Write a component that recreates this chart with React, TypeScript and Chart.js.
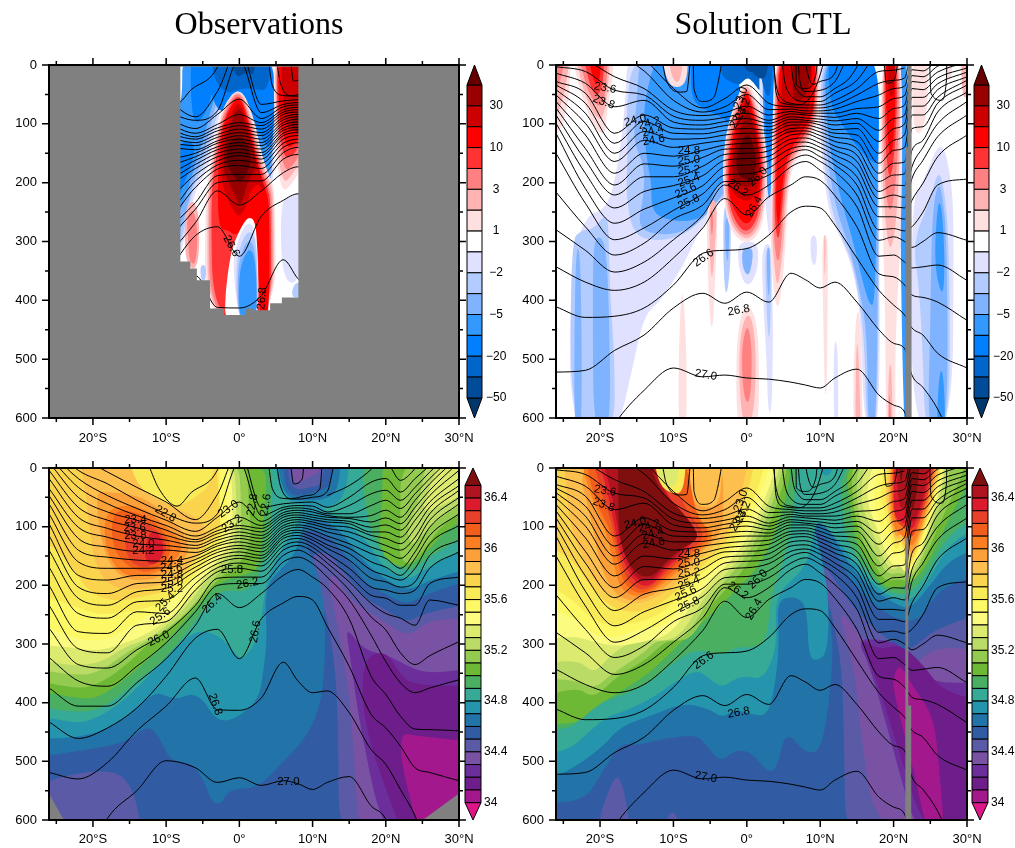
import React, { useEffect, useRef } from "react";
import { Chart, registerables } from "chart.js";
Chart.register(...registerables);

type Poly = [number, number[]];
type Label = [string, number, number, number];

const titles = ["Observations", "Solution CTL"];
const lonTicks = [-25, -20, -15, -10, -5, 0, 5, 10, 15, 20, 25, 30];
const lonNames: Record<number, string> = { [-20]: "20°S", [-10]: "10°S", 0: "0°", 10: "10°N", 20: "20°N", 30: "30°N" };
const depthTicks = [0, 50, 100, 150, 200, 250, 300, 350, 400, 450, 500, 550, 600];

const velPalette = ["#00366B", "#004C99", "#0066CC", "#0080FF", "#3399FF", "#80B3FF", "#B3CCFF", "#E0E0FF", "#FFFFFF", "#FFE0E0", "#FFB3B3", "#FF8080", "#FF3333", "#FF0000", "#CC0000", "#990000", "#660000"];
const salPalette = ["#E0158A", "#A3188C", "#6E1E8A", "#6C2E9A", "#7A52A4", "#5A5AA6", "#315CA4", "#2173A8", "#2595AD", "#36AA96", "#4BAF62", "#6DB935", "#93CA50", "#BADB65", "#DDEA70", "#FBFB80", "#FDF866", "#F9EA58", "#FBD44E", "#FDBF4D", "#FCA03A", "#FB7F22", "#F25F1C", "#E8412A", "#DC1C2C", "#B0151F", "#7F0F0F"];
const velTickAt = [0, 2, 4, 6, 8, 10, 12, 14];
const velTickText = ["−50", "−20", "−5", "−2", "1", "3", "10", "30"];
const salTickAt = [0, 4, 8, 12, 16, 20, 24];
const salTickText = ["34", "34.4", "34.8", "35.2", "35.6", "36", "36.4"];

// velocity classes
const D1 = 1, B6 = 2, B5 = 3, B4 = 4, B3 = 5, B2 = 6, B1 = 7, W = 8, R1 = 9, R2 = 10, R3 = 11, R4 = 12, R5 = 13, R6 = 14, R7 = 15, R8 = 16;

const velObsFill: Poly[] = [
  [W, [-60, -300, 60, -300, 60, 1000, -60, 1000]],
  [B1, [-8.5, 345, -7.6, 300, -7, 260, -6, 215, -5, 190, -4.2, 170, -3.4, 120, -2.4, 70, -2, -30, -8.5, -30]],
  [B2, [-8.5, 320, -7.6, 285, -7, 245, -6.2, 205, -5.2, 180, -4.4, 155, -3.6, 110, -2.5, 60, -2.2, -30, -8.5, -30]],
  [B3, [-8.5, 300, -7.6, 265, -7, 235, -6.2, 195, -5.4, 170, -4.6, 140, -3.8, 95, -2.8, 50, -2.5, -30, -8.5, -30]],
  [B4, [-8.5, 260, -7.5, 230, -6.5, 190, -5.6, 150, -4.8, 125, -4, 80, -3, 40, -2.7, -30, -8.5, -30]],
  [B5, [-8.5, 230, -7.5, 200, -6.5, 170, -6, 130, -8.5, 130]],
  [B5, [-6.7, -30, -6.6, 70, -6, 100, -5, 90, -4.2, 70, -3.4, 30, -3.2, -30]],
  [B1, [0, -30, -2, -30, -2, 120, 0, 160, 2, 180, 3.6, 200, 4.6, 210, 4.9, 120, 4.9, -30]],
  [B3, [0, -30, 1, 90, 2, 145, 3, 185, 4.2, 205, 4.6, 160, 4.8, -30]],
  [B4, [0, -30, 1, 90, 2, 140, 3, 175, 4, 190, 4.5, 150, 4.7, -30]],
  [B5, [-4.5, -30, -4, 50, -2.5, 85, -1, 60, 1, 70, 2.5, 110, 4.2, 150, 4.8, 100, 4.8, -30]],
  [B6, [-4, -30, -3.4, 30, -1.5, 50, 0, 40, 2, 40, 4, 45, 4.5, -30]],
  [D1, [-1.5, -30, -0.5, 25, 1, 10, 2, 20, 2.5, -30]],
  [R2, [-7.5, 250, -7.4, 340, -5.6, 350, -5.4, 260, -6.3, 225]],
  [R3, [-7.2, 260, -7, 300, -6.8, 335, -6, 340, -5.7, 300, -5.9, 260, -6.5, 245]],
  [R1, [-4.7, 440, -4.7, 240, -4.2, 185, -3.4, 130, -2.3, 70, 0, 35, 1.8, 80, 3.2, 160, 4.3, 195, 4.9, 215, 5, 440]],
  [R2, [-4.3, 440, -4.4, 235, -3.9, 180, -3.2, 130, -2.1, 70, 0, 38, 1.6, 85, 3, 165, 4.2, 200, 4.7, 220, 4.8, 440]],
  [R3, [-4, 440, -4.2, 235, -3.6, 175, -3, 125, -2, 75, 0, 40, 1.5, 90, 2.8, 165, 4, 205, 4.5, 225, 4.6, 440]],
  [R4, [-3.6, 440, -3.9, 230, -3.4, 175, -2.8, 130, -1.9, 80, 0, 44, 1.4, 95, 2.7, 170, 3.9, 210, 4.3, 235, 4.4, 440]],
  [R5, [-2.8, 280, -3, 200, -2.6, 130, -1.8, 85, 0, 47, 1.3, 100, 2.5, 170, 3.7, 215, 4.1, 240, 4.1, 440, 2.8, 440, 2.7, 360, 2.5, 300, 1.5, 270, 0.7, 280, -0.7, 290, -1.5, 280]],
  [R6, [0, 55, -1.6, 95, -2.4, 135, -2.6, 190, -1.9, 220, -1, 245, 0, 260, 1, 240, 1.5, 215, 2.5, 200, 3.2, 215, 3.4, 205, 2.3, 165, 1.2, 105]],
  [R7, [0, 65, -1.4, 105, -2.1, 140, -2.2, 180, -1.4, 200, -0.5, 225, 0, 240, 0.6, 225, 1.1, 200, 1.8, 185, 2.4, 170, 2, 150, 1.1, 110]],
  [R8, [0, 120, -1.5, 130, -1.9, 165, -1, 185, -0.2, 200, 0.6, 195, 1.2, 180, 1.7, 160, 1, 130]],
  [W, [-1.9, 385, -1.3, 330, -0.7, 300, 0.5, 270, 1.3, 258, 2.2, 265, 2.5, 320, 2.7, 440, -2, 440]],
  [B1, [-1, 335, 0, 290, 1.2, 265, 2.2, 280, 2.5, 340, 2.6, 440, 0, 440]],
  [B2, [-0.5, 340, 0.4, 295, 1.5, 280, 2.3, 300, 2.5, 360, 2.6, 440, -0.2, 440]],
  [B3, [-0.3, 350, 0.5, 310, 1.5, 295, 2.3, 320, 2.5, 440, -0.1, 440]],
  [B4, [-0.1, 360, 0.6, 325, 1.6, 310, 2.3, 340, 2.4, 440, 0, 440]],
  [B2, [-5.4, 340, -5.2, 370, -4.6, 365, -4.5, 340]],
  [B1, [5.6, 230, 5.8, 370, 8.6, 370, 8.6, 210, 7, 225]],
  [B2, [7, 395, 8.6, 395, 8.6, 370, 7.5, 370]],
  [R1, [4.6, -30, 4.8, 90, 5, 150, 5.4, 190, 6, 215, 7, 205, 8.6, 175, 8.6, -30]],
  [R2, [4.8, -30, 5, 90, 5.2, 145, 5.6, 180, 6.2, 200, 7, 190, 8.6, 160, 8.6, -30]],
  [R3, [5, -30, 5.1, 90, 5.4, 140, 6.3, 180, 7, 175, 8.6, 148, 8.6, -30]],
  [R4, [5.1, -30, 5.2, 90, 5.6, 130, 6.4, 165, 8.6, 135, 8.6, -30]],
  [R5, [5.3, -30, 5.4, 85, 6, 120, 6.7, 145, 8.6, 120, 8.6, -30]],
  [R6, [5.7, -30, 5.9, 70, 6.8, 120, 8.6, 100, 8.6, -30]],
  [R7, [6.9, 95, 8.6, 70, 8.6, 115, 7.6, 115]],
  [W, [-8.5, -30, -8.5, 65, -7.8, 60, -7.8, -30]],
];

const velCtlFill: Poly[] = [
  [W, [-60, -300, 60, -300, 60, 1000, -60, 1000]],
  [B1, [-24.2, 630, -24, 340, -22, 255, -19, 245, -17.5, 170, -16.5, 60, -16.3, -30, -1, -30, -1, 200, -3, 225, -4.5, 245, -6.8, 289, -8.6, 340, -11.8, 402, -14, 425, -15.6, 516, -17.7, 630]],
  [B2, [-24, 630, -24, 300, -22.5, 280, -21, 280, -19, 250, -18.8, 300, -18.6, 400, -18, 500, -18, 630]],
  [B3, [-20.9, 630, -21, 400, -20.9, 300, -20, 290, -19.2, 310, -18.8, 400, -18.5, 630]],
  [B3, [-23.6, 630, -23.4, 350, -23, 300, -22.6, 350, -22.4, 630]],
  [B2, [-15.5, -30, -16.5, 90, -16.2, 150, -16.5, 220, -15.5, 290, -12, 300, -9, 290, -7, 275, -5, 240, -3, 225, -1, 190, -1, -30]],
  [B3, [-14.5, -30, -15, 60, -15.5, 130, -14, 170, -14, 220, -15, 280, -11, 290, -8, 280, -6, 262, -4, 232, -2, 200, -1, -30]],
  [B4, [-12, -30, -14, 60, -14, 120, -13.5, 170, -13, 200, -13, 250, -10.5, 265, -7, 265, -5.5, 250, -4, 200, -1, 190, -1, -30]],
  [B5, [-7.5, -30, -7.7, 55, -6, 75, -3, 90, -1, 120, -1, -30]],
  [B6, [-4, -30, -3.5, 20, -2, 30, -1, 35, 0, 20, 1, 30, 2, 50, 3, -30]],
  [D1, [-1.5, -30, 0, 15, 1.5, 8, 2, -30]],
  [B1, [1.5, -30, 2, 150, 2.5, 230, 3, 290, 3.3, 300, 3.6, 200, 4.1, -30]],
  [B4, [2, -30, 2.4, 150, 3, 240, 3.4, 200, 3.9, -30]],
  [B5, [2.2, -30, 2.6, 120, 3.1, 190, 3.6, 120, 3.8, -30]],
  [B6, [1.5, -30, 2, 30, 3, 60, 3.4, 30, 3.6, -30]],
  [D1, [-0.5, -30, 0.5, 10, 1.7, 25, 2.8, 20, 3, -30]],
  [B1, [9.5, -30, 9.8, 100, 11, 250, 13, 298, 14.5, 350, 15.5, 420, 16, 630, 18.2, 630, 18, 200, 18, -30]],
  [B2, [10, -30, 10.2, 130, 11.5, 250, 13.5, 310, 14.5, 340, 16, 450, 16.3, 630, 18, 630, 18, -30]],
  [B3, [10.3, -30, 10.5, 120, 12, 240, 14, 310, 15.5, 390, 16.4, 460, 16.5, 630, 17.8, 630, 17.9, -30]],
  [B4, [10.6, -30, 10.8, 110, 12.5, 215, 14.5, 300, 15.8, 370, 16.8, 410, 17.4, 405, 17.6, 300, 17.9, 200, 18, -30]],
  [B5, [11, -30, 11.3, 70, 13, 100, 15, 140, 17.5, 170, 18, 160, 18, -30]],
  [B4, [21, -30, 20.8, 100, 20.9, 200, 21, 350, 21.2, 500, 21.5, 630, 22, 630, 22, -30]],
  [B1, [22.4, 230, 22.4, 630, 28, 630, 28.2, 300, 28, 200, 26.5, 120, 24, 200]],
  [B2, [22.6, 300, 23.5, 380, 24, 500, 24.3, 630, 27.7, 630, 27.6, 300, 26.8, 200, 26, 180, 25, 230]],
  [B3, [24.6, 630, 25, 450, 25.2, 260, 26, 200, 26.6, 215, 27.3, 300, 27.4, 630]],
  [B4, [25.5, 340, 26, 230, 26.6, 240, 27, 340, 26.7, 400]],
  [B4, [25.8, 630, 26.2, 520, 26.8, 520, 27.1, 630]],
  [R1, [22.5, -30, 22.6, 110, 23.8, 120, 24.7, 70, 24.6, -30]],
  [R1, [26.8, -30, 27.2, 30, 28, 20, 28, -30]],
  [R2, [29.2, -30, 29.3, 50, 30, 60, 30.5, -30]],
  [R1, [-26.5, -30, -26.5, 130, -25, 100, -24.2, 55, -23.9, -30]],
  [R2, [-26.5, -30, -26.5, 100, -25.5, 75, -24.5, 30, -24.1, -30]],
  [R3, [-26.5, -30, -26.5, 55, -25.4, 30, -24.5, -30]],
  [R4, [-26.5, -30, -26.5, 30, -25.2, -30]],
  [R1, [-24.1, -30, -22.7, 48, -20.9, 105, -19.3, 122, -19.1, 77, -18.2, 26, -18.2, -30]],
  [R2, [-23.6, -30, -22.2, 48, -20.7, 88, -19.5, 94, -18.8, 26, -18.6, -30]],
  [R3, [-23.2, -30, -21.8, 42, -20.4, 71, -19.5, 65, -19, 14, -19, -30]],
  [R4, [-22.5, -30, -21.3, 42, -20.2, 54, -19.5, 26, -19.5, -30]],
  [R5, [-21.8, -30, -20.9, 31, -20, 31, -19.8, -30]],
  [R1, [-11.8, -30, -10.9, 31, -9.3, 40, -8.1, 26, -8, -30]],
  [R2, [-10.9, -30, -10.2, 26, -9, 31, -8.6, -30]],
  [R1, [-8.8, 360, -9.3, 480, -9.3, 630, -8.2, 630, -8.2, 480]],
  [R1, [-5.5, 230, -5.4, 330, -5, 440, -4.6, 450, -4.2, 330, -3.9, 240]],
  [R2, [-5.2, 230, -5, 340, -4.7, 370, -4.3, 300, -4, 230]],
  [R3, [-5, 240, -4.8, 300, -4.5, 260]],
  [B2, [-3.2, 230, -3.2, 350, -2.8, 400, -2.2, 340, -2.2, 250]],
  [B3, [-3, 260, -2.9, 320, -2.6, 340, -2.4, 300, -2.4, 260]],
  [B1, [-1.2, 300, -1.2, 340, -0.3, 375, 0.8, 370, 1.6, 340, 1.5, 300]],
  [B3, [-0.7, 310, -0.6, 345, 0.2, 360, 0.7, 340, 0.9, 310]],
  [R1, [0.1, 405, -1, 430, -1.5, 500, -1.3, 630, 1.6, 630, 1.7, 500, 1.3, 430]],
  [R2, [0.1, 420, -0.8, 450, -1.1, 510, -0.8, 590, 0, 620, 1, 590, 1.3, 500, 0.9, 440]],
  [R3, [0.1, 440, -0.6, 470, -0.7, 520, -0.3, 570, 0.4, 575, 0.7, 520, 0.6, 470]],
  [B1, [2, 310, 2.2, 400, 2.7, 500, 2.9, 590, 3.4, 590, 3.6, 450, 3.4, 350, 3.3, 300]],
  [B2, [2.5, 310, 2.6, 400, 3, 480, 3.3, 420, 3.3, 310]],
  [B3, [2.7, 310, 2.8, 380, 3.1, 400, 3.2, 310]],
  [B1, [8.6, 290, 8.8, 340, 9.5, 340, 9.6, 290]],
  [R1, [10.2, 289, 10.4, 420, 10.6, 560, 10.9, 560, 11, 420, 11.1, 289]],
  [R2, [10.5, 289, 10.6, 380, 10.8, 289]],
  [B1, [11.8, 470, 11.9, 630, 12.5, 630, 12.4, 470]],
  [R1, [14.9, 420, 14.5, 520, 14.5, 630, 15.8, 630, 15.7, 520, 15.4, 420]],
  [R2, [15, 450, 14.8, 560, 14.8, 630, 15.5, 630, 15.4, 540]],
  [R1, [0, 25, -1.2, 50, -2.6, 100, -3.3, 160, -3.2, 220, -2.6, 270, -1.2, 298, 0.5, 302, 2, 280, 2.6, 230, 2.8, 170, 2.4, 110, 1.3, 55]],
  [R2, [0, 30, -1.1, 55, -2.5, 105, -3.1, 160, -3, 220, -2.4, 265, -1, 292, 0.4, 296, 1.8, 274, 2.4, 228, 2.6, 170, 2.2, 112, 1.1, 60]],
  [R3, [0, 34, -1, 60, -2.3, 110, -2.9, 165, -2.8, 220, -2.2, 260, -0.9, 287, 0.4, 290, 1.6, 268, 2.2, 226, 2.4, 170, 2, 115, 1, 65]],
  [R4, [0, 38, -0.9, 65, -2.1, 115, -2.7, 170, -2.6, 220, -2, 255, -0.8, 280, 0.3, 283, 1.4, 262, 2, 222, 2.2, 170, 1.8, 118, 0.9, 70]],
  [R5, [0, 42, -0.8, 72, -1.9, 120, -2.5, 175, -2.4, 220, -1.8, 245, -0.6, 268, 0.3, 270, 1.2, 250, 1.8, 218, 2, 170, 1.6, 122, 0.8, 76]],
  [R6, [0, 50, -0.7, 80, -1.7, 125, -2.3, 175, -2.2, 210, -1.4, 225, 0, 232, 1, 225, 1.7, 205, 1.9, 170, 1.5, 125, 0.7, 82]],
  [R7, [0, 70, -1.3, 125, -2, 165, -1.9, 195, -1, 205, 0, 208, 1, 203, 1.6, 185, 1.7, 160, 1.2, 120, 0.5, 85]],
  [R8, [0, 115, -1.3, 145, -1.5, 180, -0.5, 195, 0.8, 195, 1.3, 178, 1.2, 150, 0.6, 125]],
  [R1, [3.8, -30, 3.5, 100, 3.3, 200, 3.2, 300, 3.6, 380, 4.2, 420, 4.8, 380, 5.3, 300, 5.6, 220, 6.2, 170, 8, 140, 9.5, 105, 9.9, 60, 10, -30]],
  [R2, [4, -30, 3.7, 100, 3.5, 200, 3.4, 290, 3.8, 350, 4.2, 380, 4.7, 340, 5.1, 290, 5.4, 220, 6, 165, 8, 132, 9.3, 100, 9.7, 60, 9.8, -30]],
  [R3, [4.1, -30, 3.8, 100, 3.6, 200, 3.6, 280, 4, 330, 4.4, 335, 4.8, 290, 5.2, 215, 5.9, 160, 7.9, 128, 9.2, 95, 9.6, 50, 9.7, -30]],
  [R4, [4.3, -30, 4, 100, 3.8, 200, 3.8, 265, 4.2, 300, 4.6, 280, 5, 210, 5.7, 155, 7.8, 122, 9.1, 88, 9.4, 40, 9.5, -30]],
  [R5, [4.5, -30, 4.2, 100, 4, 200, 4, 250, 4.3, 275, 4.5, 260, 4.8, 205, 5.5, 150, 7.6, 115, 9, 82, 9.3, 40, 9.3, -30]],
  [R6, [5, -30, 4.6, 70, 5, 120, 6.5, 115, 7.6, 100, 8.8, 60, 9, -30]],
  [R7, [6.3, -30, 6.2, 40, 6.6, 65, 7.6, 60, 8.7, 30, 8.8, -30]],
  [R1, [18.3, -30, 18.2, 200, 18.6, 300, 18.8, 400, 18.9, 500, 19, 630, 20.3, 630, 20.2, 500, 20.5, 400, 21, 280, 21.2, 150, 21.1, -30]],
  [R2, [18.5, -30, 18.4, 180, 18.9, 270, 19.5, 320, 20.3, 280, 20.9, 150, 20.9, -30]],
  [R2, [19.2, 630, 19.3, 520, 19.7, 500, 19.9, 630]],
  [R3, [18.6, -30, 18.6, 160, 19.2, 250, 20, 240, 20.7, 130, 20.7, -30]],
  [R3, [19.3, 630, 19.45, 540, 19.7, 630]],
  [R4, [18.75, -30, 18.8, 130, 19.5, 210, 20.4, 120, 20.5, -30]],
  [R5, [18.9, -30, 19, 100, 19.6, 170, 20.2, 100, 20.3, -30]],
  [R6, [19, -30, 19.2, 40, 19.8, 60, 20.2, 30, 20.2, -30]],
];

const salObsFill: Poly[] = [
  [6, [-60, -300, 60, -300, 60, 1000, -60, 1000]],
  [5, [-30, 700, -30, 545, -18.8, 510, -14.2, 536, -12.6, 700]],
  [4, [-22, 630, -19.7, 586, -18.5, 630]],
  [5, [13.6, 700, 13.5, 400, 12.6, 292, 11.5, 235, 10.5, 190, 9.5, 150, 12, 140, 15, 190, 17.4, 225, 19.9, 240, 22.9, 265, 25.6, 245, 35, 225, 35, 700]],
  [4, [16.7, 700, 15.4, 440, 14.6, 349, 13.7, 292, 13, 240, 12, 190, 13, 180, 15, 225, 19.7, 262, 23.3, 290, 26, 255, 35, 260, 35, 700]],
  [3, [21.3, 630, 19, 590, 17, 470, 16, 400, 15, 310, 14.5, 270, 17, 310, 20.5, 320, 24, 345, 27, 350, 35, 335, 35, 700]],
  [2, [22.5, 630, 20.8, 575, 17, 440, 16.7, 326, 20, 310, 21.8, 350, 24, 372, 35, 370, 35, 700]],
  [1, [22.2, 451, 24, 457, 35, 470, 35, 700, 24.7, 630, 23.1, 553, 22, 491]],
  [7, [-30, 497, -20.5, 480, -15.5, 468, -12.4, 437, -10.8, 462, -9.4, 500, -6.5, 502, -4.7, 536, -3.8, 570, -2.4, 573, -1.5, 548, 2.6, 545, 5.4, 508, 9, 463, 11.3, 400, 11.8, 300, 11.5, 220, 10.5, 172, 9.2, 132, 8.5, 105, 11.9, 110, 15.2, 160, 17.4, 200, 19.9, 214, 22.9, 234, 25.6, 214, 35, 177, 35, -30, -30, -30]],
  [8, [-30, 462, -21, 460, -15.6, 429, -11.5, 378, -9, 397, -5.6, 380, -2.6, 443, 2.6, 400, 3.3, 344, 3.8, 292, 3.5, 228, 4, 194, 5.6, 174, 7.4, 149, 8.1, 126, 9, 85, 12.9, 92, 17, 160, 19.7, 188, 22.9, 211, 26.5, 188, 35, 160, 35, -30, -30, -30]],
  [9, [-30, 420, -25, 428, -21, 437, -16, 400, -11.5, 343, -7.8, 292, -5, 275, -2, 292, -0.3, 323, 0.8, 323, 2.5, 292, 3.2, 240, 3.6, 200, 4.2, 177, 6, 132, 7.9, 98, 9, 47, 12.4, 78, 17, 115, 19.7, 171, 22.9, 194, 26, 166, 35, 115, 35, -30, -30, -30]],
  [10, [-30, 402, -21, 420, -17.4, 400, -13.3, 355, -10.6, 332, -8.3, 298, -5.1, 245, -2.8, 211, -1, 208, 0.8, 211, 2.6, 188, 2.9, 166, 4.2, 143, 4.4, 60, 4.6, -30, -30, -30]],
  [10, [16.5, -30, 17.2, 75, 18.8, 137, 22.9, 183, 26, 149, 35, 90, 35, -30]],
  [11, [-30, 372, -21.5, 395, -18.8, 389, -15.1, 355, -11, 310, -9.7, 292, -6, 240, -3.3, 200, -1, 186, 0.8, 183, 2.6, 171, 2.9, 137, 3.5, 70, 3.8, -30, -30, -30]],
  [11, [19.5, -30, 19.6, 50, 19, 120, 20, 160, 22.9, 171, 25.6, 143, 28.8, 98, 35, 70, 35, -30]],
  [12, [-30, 355, -22, 378, -18.8, 366, -15, 332, -11.9, 292, -6.5, 245, -3.8, 200, -1, 171, 0.3, 160, 1.7, 120, 1.3, 64, 0.9, -30, -30, -30]],
  [12, [22, -30, 22, 110, 21.8, 150, 23, 165, 24.3, 154, 28.3, 86, 35, 50, 35, -30]],
  [13, [-30, 338, -22, 355, -18.8, 346, -15, 310, -10.6, 282, -7, 245, -4.2, 200, -2, 166, 0.1, 143, 0.3, 58, -0.2, -30, -30, -30]],
  [13, [25.8, -30, 24.7, 52, 22.9, 98, 23.2, 125, 23.8, 132, 27.4, 81, 35, 30, 35, -30]],
  [14, [-30, 321, -22.9, 338, -18.8, 332, -15.6, 304, -12, 290, -7.4, 240, -4.7, 194, -2.4, 160, -0.6, 137, -0.3, 58, -0.9, -30, -30, -30]],
  [14, [27.5, -30, 26.5, 20, 24.7, 75, 27, 70, 35, 12, 35, -30]],
  [15, [-30, 300, -23, 305, -20, 312, -17, 305, -12.8, 285, -8.8, 250, -5.6, 200, -3.3, 160, -1.2, 132, -0.8, 58, -1.5, -30, -30, -30]],
  [16, [-30, 250, -23, 290, -19, 296, -16, 280, -14, 262, -9.7, 234, -6.2, 188, -3.8, 154, -2, 126, -1.5, 52, -2.2, -30, -30, -30]],
  [17, [-30, 205, -22.9, 234, -19.2, 251, -15, 245, -11, 234, -7.4, 200, -4.2, 154, -2.4, 120, -2.8, 52, -2.6, -30, -30, -30]],
  [18, [-30, 100, -25, 137, -22.4, 177, -20.6, 211, -17.4, 228, -13.3, 220, -9.2, 208, -6.5, 166, -4.2, 132, -2.4, 103, -3, 24, -3.2, -30, -30, -30]],
  [19, [-22, -30, -21, 40, -20.6, 86, -19.7, 171, -17, 208, -12, 205, -8.3, 188, -6, 149, -4.2, 115, -5.5, 85, -9, 68, -11, 50, -13, -30]],
  [17, [-15.5, -30, -14, 30, -11, 55, -8.5, 68, -6, 50, -4, 30, -2.8, -30]],
  [20, [-19.7, 41, -18.8, 137, -16.5, 188, -12, 194, -8.3, 166, -6.5, 137, -8.3, 98, -12, 58, -14.7, 44, -18.3, 41]],
  [21, [-18.5, 75, -18.3, 143, -16, 183, -12.8, 186, -9.2, 166, -7.4, 132, -9.7, 103, -12.8, 70, -15.6, 61]],
  [22, [-17.4, 75, -17.4, 137, -15.1, 171, -12, 180, -9.7, 155, -9.2, 126, -12, 86, -15, 72]],
  [23, [-15.6, 86, -15.6, 155, -12.8, 174, -10, 149, -10, 120, -12, 98, -14, 88]],
  [24, [-12.5, 115, -13, 145, -12.5, 165, -11, 162, -10.4, 145, -10.4, 125, -11.5, 105]],
  [8, [4.9, -30, 5.2, 30, 7, 60, 9, 62, 12, 70, 14.5, 50, 15.2, -30]],
  [7, [5.2, -30, 5.6, 30, 7.2, 55, 9, 55, 11.5, 55, 13.5, 40, 14, -30]],
  [6, [6, -30, 6.1, 30, 7.5, 48, 9, 45, 11, 40, 12.5, 30, 13, -30]],
  [5, [6.6, -30, 6.7, 25, 8, 38, 9.5, 33, 11.2, 30, 12, -30]],
  [4, [7, -30, 7.4, 28, 8.6, 22, 10, 12, 11, 8, 11.3, -30]],
];

const salCtlFill: Poly[] = [
  [6, [-60, -300, 60, -300, 60, 1000, -60, 1000]],
  [5, [-21, 630, -18.2, 525, -17, 530, -15.6, 630]],
  [5, [-11.8, 630, -10, 573, -8.8, 630]],
  [5, [13.5, 700, 13.2, 420, 12.8, 320, 11, 220, 10, 160, 11.5, 180, 14, 230, 17, 270, 20, 300, 22, 315, 26, 270, 35, 240, 35, 700]],
  [4, [17.6, 630, 15.5, 450, 14.6, 340, 13.5, 292, 12.5, 240, 14.5, 270, 17, 310, 20, 330, 22, 345, 26, 300, 35, 320, 35, 700]],
  [3, [23.3, 630, 20.8, 520, 18.2, 400, 16.5, 330, 15, 292, 18, 292, 21, 300, 23, 340, 26, 370, 35, 360, 35, 700]],
  [2, [24.5, 630, 21, 495, 18.7, 400, 16.5, 320, 15.5, 292, 18, 310, 21, 300, 24, 335, 27, 385, 35, 400, 35, 700]],
  [1, [19.8, 366, 20.5, 338, 21.4, 343, 22.6, 372, 25.5, 423, 26.2, 510, 27, 630, 24.7, 630, 22.8, 519, 20.7, 417]],
  [7, [-30, 570, -22.3, 570, -20, 525, -17.2, 468, -15.4, 474, -10.9, 460, -6.8, 455, -5.4, 474, -3.6, 502, -1.8, 482, 0.5, 482, 2.8, 519, 4.1, 513, 5.3, 446, 7.8, 485, 10, 485, 11.2, 406, 11.9, 292, 10.5, 217, 9.2, 150, 8.5, 110, 10, 105, 12, 140, 14.2, 194, 16.9, 228, 18.7, 245, 20.5, 257, 23.3, 262, 25, 230, 27, 200, 35, 170, 35, -30, -30, -30]],
  [8, [-30, 530, -25.9, 525, -23.2, 508, -19.5, 474, -17.2, 440, -13.2, 423, -8.6, 400, -5, 411, -3.4, 426, -1.5, 411, 0.5, 420, 3, 423, 4.1, 349, 4.4, 292, 4.1, 222, 7, 220, 8.2, 240, 8.4, 320, 9.5, 330, 11, 315, 11.2, 230, 10.5, 170, 9.5, 115, 8.7, 90, 10, 85, 12, 120, 14.2, 171, 16.9, 205, 20.5, 234, 22.3, 240, 25, 200, 28, 150, 35, 125, 35, -30, -30, -30]],
  [9, [-30, 490, -25.9, 485, -23.6, 474, -22.2, 457, -19, 423, -17.2, 417, -13.2, 395, -10, 366, -6.8, 343, -5, 360, -3.4, 375, -1.5, 358, -0.1, 355, 2.2, 360, 3.7, 320, 4, 292, 3.9, 217, 6.9, 183, 8.2, 160, 9, 120, 9.6, 85, 12.3, 120, 14.2, 154, 16.9, 194, 19.6, 222, 22.8, 225, 24.8, 190, 28, 120, 35, 85, 35, -30, -30, -30]],
  [10, [-30, 446, -23.6, 446, -21.6, 406, -17.7, 392, -13.2, 366, -10.4, 335, -6.8, 307, -3.4, 321, -1.3, 304, 1, 307, 2.8, 292, 3.2, 217, 5, 160, 6, 103, 6.5, 50, 7, -30, -30, -30]],
  [10, [12.8, -30, 13, 92, 14.2, 137, 16.9, 186, 19.2, 211, 21.9, 218, 24.6, 180, 27.5, 110, 35, 50, 35, -30]],
  [8, [9.5, -30, 10, 10, 11.5, 15, 12, -30]],
  [11, [-30, 429, -23.5, 440, -20.9, 409, -16.8, 378, -13.2, 349, -10, 310, -8.6, 292, -4, 240, -1.3, 205, 1, 177, 3.2, 132, 5.3, 58, 6.4, -30, -30, -30]],
  [11, [13.2, -30, 14.2, 81, 15, 132, 16.9, 171, 18.7, 205, 21.4, 205, 24.2, 175, 27, 100, 30.5, 15, 33, -30]],
  [12, [-30, 400, -23.2, 372, -20.9, 394, -17.7, 355, -13.6, 326, -10.9, 292, -7.7, 296, -5, 234, -2.2, 200, 0, 166, 2.3, 120, 4.6, 47, 6, -30, -30, -30]],
  [12, [14.2, -30, 14.4, 64, 15.5, 120, 17.3, 160, 18.7, 194, 21, 188, 22.8, 200, 26, 100, 29.6, 7, 30, -30]],
  [13, [-30, 360, -23.6, 360, -20.9, 378, -18.2, 349, -14, 315, -12.2, 292, -8.6, 296, -5.4, 228, -2.7, 188, -0.2, 154, 2.1, 103, 4.1, 41, 5.5, -30, -30, -30]],
  [13, [15.3, -30, 14.8, 64, 16.2, 115, 17.8, 154, 19.2, 183, 21, 177, 22.8, 190, 25.8, 88, 28.7, -30]],
  [14, [-30, 338, -23, 325, -20.9, 352, -18.2, 315, -15.9, 298, -14, 292, -9.5, 296, -5.9, 222, -3.1, 183, -0.6, 149, 1.6, 98, 3.7, 35, 5, -30, -30, -30]],
  [14, [16.4, -30, 15.3, 52, 16.9, 103, 18.2, 143, 19.6, 177, 21, 166, 22.8, 180, 25.6, 80, 27.9, -30]],
  [15, [-30, 300, -24, 285, -20.9, 296, -17.7, 305, -14, 296, -10.4, 285, -6.6, 217, -3.6, 177, -1.1, 143, 1.2, 92, 3.2, 30, 4.6, -30, -30, -30]],
  [15, [17.8, -30, 16, 47, 17.6, 98, 18.7, 137, 20, 171, 20.7, 160, 21.5, 180, 22.8, 175, 25.5, 75, 27.5, -30]],
  [16, [-30, 230, -24, 250, -21, 285, -17.7, 290, -14, 270, -11.3, 273, -7.2, 211, -4.3, 171, -1.5, 137, 0.5, 86, 2.5, 24, 3.7, -30, -30, -30]],
  [16, [18.7, -30, 17.1, 41, 18, 92, 19.2, 132, 20.3, 154, 21, 140, 21.8, 170, 22.8, 170, 25.4, 70, 27.3, -30]],
  [17, [-30, 180, -24, 220, -21, 260, -18, 270, -12.2, 257, -7.7, 200, -5, 166, -2, 132, 0, 81, 1.9, 24, 2.8, -30, -30, -30]],
  [17, [19.4, -30, 18, 41, 19, 86, 19.8, 126, 20.5, 143, 21, 125, 21.8, 165, 22.7, 165, 25.3, 65, 27.1, -30]],
  [18, [-30, 120, -24, 149, -21.3, 205, -17.7, 245, -13.2, 245, -8.6, 200, -5.6, 160, -2.7, 126, -0.6, 75, 0.5, 24, 1.4, -30, -30, -30]],
  [18, [19.6, -30, 18.7, 41, 19.4, 86, 20, 115, 20.4, 135, 21, 120, 21.8, 155, 22.7, 160, 25.2, 60, 26.9, -30]],
  [19, [-25, -30, -24.5, 50, -24, 103, -21.3, 183, -18.2, 228, -14, 234, -9, 194, -6.3, 154, -3.1, 120, -1.3, 75, -0.4, 24, 0.5, -30]],
  [19, [19.7, -30, 19, 50, 19.5, 90, 20.2, 125, 21, 115, 21.8, 145, 22.7, 155, 25.1, 58, 26.7, -30]],
  [20, [-23.6, -30, -20.9, 103, -20, 171, -17.7, 222, -14, 228, -9.5, 188, -6.8, 149, -3.6, 115, -3.1, 75, -3.4, -30]],
  [20, [19.8, -30, 19.3, 50, 19.7, 95, 20.4, 120, 21, 110, 21.8, 135, 22.7, 150, 25, 55, 26.4, -30]],
  [21, [-23, -30, -21.3, 47, -19.3, 103, -18.2, 160, -17.2, 211, -14, 222, -10, 183, -7.2, 149, -4, 115, -6.8, 86, -7.9, 7, -8, -30]],
  [21, [19.9, -30, 19.5, 50, 19.9, 95, 20.5, 110, 21.8, 120, 22.7, 140, 24.9, 52, 26.2, -30]],
  [22, [-22.3, -30, -20.7, 58, -18.6, 103, -17.7, 154, -16.6, 205, -13.8, 217, -10.4, 180, -7.7, 146, -4.5, 115, -7.2, 81, -8.1, -30]],
  [23, [-21.3, -30, -20, 35, -18.4, 92, -17.5, 149, -16.1, 200, -13.6, 211, -10.6, 174, -7.9, 143, -5.4, 115, -8.1, 75, -8.8, 52, -11.3, 30, -12.2, -30]],
  [23, [20, -30, 19.8, 50, 20.1, 90, 21.8, 105, 22.6, 125, 24.7, 50, 26, -30]],
  [24, [-20.6, -30, -19.3, 24, -18.2, 86, -17.5, 137, -15.6, 194, -13.2, 205, -10.9, 169, -8.1, 140, -6.8, 115, -9, 75, -11.1, 41, -13.6, -30]],
  [24, [20.1, -30, 20, 60, 20.3, 88, 21.8, 95, 22.6, 110, 24.4, 50, 25.7, -30]],
  [25, [-20, -30, -18.8, 24, -17.9, 75, -17.2, 132, -15.4, 188, -13.2, 197, -11.1, 166, -8.4, 137, -7.2, 112, -9.3, 70, -11.1, 45, -13.6, -30]],
  [25, [20.4, -30, 20.6, 65, 21.5, 70, 22.3, 85, 22.8, 95, 24.1, 50, 25.3, -30]],
  [26, [-17.6, -30, -17.5, 24, -17.5, 126, -15.2, 183, -12.7, 186, -11.1, 160, -8.6, 135, -7, 125, -6.6, 110, -9.5, 64, -11.8, 41, -14, -30]],
  [26, [21.8, -30, 22, 40, 22.4, 75, 23, 60, 23.8, -30]],
  [26, [20.7, -30, 20.8, 20, 21.2, 25, 21.4, -30]],
  [17, [-12.8, -30, -12, 30, -10, 45, -8.6, 40, -8.2, -30]],
  [14, [-12.2, -30, -12, 15, -11, 32, -9.5, 32, -9, -30]],
  [19, [-8, -30, -7.5, 60, -5, 70, -3.5, 55, -3.4, -30]],
];

const GRAY = "#808080";
const obsVelMask = [-27, -10, 31, -10, 31, 610, -27, 610, -27, 3, -8.06, 3, -8.06, 334, -6.7, 334, -6.7, 346, -5.8, 346, -5.8, 366, -4, 366, -4, 414, -2.1, 414, -2.1, 425, 0.8, 425, 0.8, 414, 1.95, 414, 1.95, 417, 4.2, 417, 4.2, 405, 5.8, 405, 5.8, 395, 8.06, 395, 8.06, 3, -27, 3];
const ctlVelBar = [21.6, 140, 21.6, 610, 22.45, 610, 22.45, -10, 21.9, -10, 21.9, 140];
const ctlSalBar = [21.6, 119, 21.6, 610, 22.4, 610, 22.4, 405, 22, 405, 22, 119];
const obsSalCornerW = [-27, 555, -26, 555, -23.8, 604, -27, 604];
const obsSalCornerE = [24.6, 604, 30, 555, 31, 555, 31, 604];

// density contours: depth of each sigma level at the listed longitudes
const obsLon = [-26, -22, -18, -14, -10, -6, -3, 0, 3, 6, 8, 10, 12, 15, 18, 20, 22, 24, 26, 30];
const obsDepth: number[][] = [
  [-40, -20, 7, 33, 58, 88, 45, -30, 67, 61, 59, 58, 67, 50, 24, 18, 41, 18, -4, -50],
  [-40, 4, 27, 55, 78, 94, 78, -10, 81, 67, 64, 65, 75, 64, 44, 38, 55, 33, 7, -40],
  [-30, 18, 47, 69, 89, 108, 84, 58, 91, 71, 68, 71, 78, 78, 64, 55, 69, 44, 18, -30],
  [-20, 33, 61, 81, 98, 116, 101, 84, 98, 76, 72, 75, 81, 84, 81, 72, 84, 55, 27, -20],
  [-10, 50, 75, 89, 106, 122, 107, 98, 103, 80, 76, 80, 84, 86, 92, 85, 95, 67, 38, -10],
  [4, 67, 89, 102, 115, 126, 112, 103, 109, 84, 80, 84, 88, 91, 101, 97, 106, 78, 47, 4],
  [18, 84, 103, 116, 123, 132, 118, 109, 115, 89, 84, 88, 92, 95, 109, 109, 118, 89, 58, 18],
  [35, 101, 118, 129, 132, 137, 123, 115, 120, 93, 88, 92, 98, 101, 115, 120, 129, 103, 67, 30],
  [47, 120, 135, 142, 140, 144, 129, 120, 126, 98, 92, 96, 103, 109, 123, 132, 140, 118, 78, 38],
  [61, 140, 152, 157, 159, 150, 133, 126, 132, 102, 97, 101, 109, 118, 135, 143, 154, 129, 89, 50],
  [78, 160, 171, 171, 170, 156, 139, 132, 137, 107, 101, 106, 116, 129, 146, 154, 171, 143, 101, 61],
  [95, 183, 191, 183, 183, 162, 144, 137, 143, 111, 106, 112, 123, 137, 160, 169, 183, 154, 115, 78],
  [115, 203, 214, 197, 194, 169, 150, 143, 149, 116, 110, 118, 131, 146, 174, 183, 191, 171, 129, 98],
  [140, 222, 234, 211, 205, 176, 156, 149, 154, 120, 115, 123, 137, 157, 188, 194, 203, 194, 149, 123],
  [169, 248, 256, 228, 225, 186, 163, 154, 160, 126, 120, 129, 146, 171, 203, 208, 214, 208, 171, 143],
  [200, 279, 282, 245, 248, 197, 170, 162, 167, 133, 126, 135, 154, 183, 217, 222, 234, 234, 197, 186],
  [234, 308, 315, 268, 262, 208, 177, 171, 176, 140, 132, 142, 162, 194, 231, 248, 256, 268, 225, 234],
  [273, 335, 341, 310, 280, 234, 188, 186, 186, 149, 140, 152, 171, 208, 254, 276, 315, 335, 320, 296],
  [323, 363, 372, 338, 298, 245, 200, 197, 197, 160, 152, 163, 186, 225, 285, 330, 366, 383, 375, 361],
  [375, 406, 406, 366, 325, 268, 214, 238, 214, 183, 173, 186, 205, 257, 355, 386, 423, 445, 446, 448],
  [433, 461, 443, 409, 355, 290, 275, 325, 257, 230, 219, 225, 270, 338, 420, 443, 474, 511, 519, 533],
  [519, 530, 502, 448, 406, 358, 412, 413, 392, 331, 363, 383, 380, 417, 480, 505, 548, 593, 660, 720],
  [800, 700, 597, 550, 499, 511, 536, 528, 541, 533, 538, 548, 536, 526, 576, 599, 680, 740, 780, 800],
];
const obsExtra: [number[], number[]][] = [
  [[-12.4, -11, -8.5, -6.5, -3.75, -2.6], [-5, 35, 65, 41, 18, -5]],
  [[5.1, 5.6, 7.2, 9.2, 11, 11.3], [-5, 30, 52, 47, 35, -5]],
  [[7, 7.4, 8.6, 8.8], [-5, 27, 18, -5]],
  [[4, 4.5, 6.1, 8, 10, 12, 12.9], [-5, 35, 52, 53, 50, 40, -5]],
  [[12, 15, 17.5, 18.6], [47, 30, 8, -5]],
  [[20.5, 22, 23.5, 24.3], [-5, 21, 8, -5]],
  [[-7.5, -7.1], [495, 495]],
];

const ctlLon = [-26, -22, -18, -14, -10, -6, -3, 0, 3, 6, 8, 10, 12, 15, 18, 20, 21.5, 22.5, 24, 26, 30];
const ctlDepth: number[][] = [
  [-60, -50, -40, -10, 40, 73, 57, 34, 65, 71, 73, 73, 68, 51, 31, 26, 22, -20, -10, -30, -40],
  [-50, -40, -20, 10, 60, 80, 71, 50, 76, 75, 78, 78, 75, 62, 51, 40, 36, -5, 0, -20, -30],
  [-40, -10, 20, 40, 77, 86, 81, 70, 85, 79, 82, 82, 82, 74, 71, 57, 52, 8, 10, -8, -25],
  [3, 11, 43, 51, 87, 94, 89, 82, 94, 83, 85, 87, 89, 82, 91, 74, 68, 18, 20, 2, -15],
  [14, 31, 71, 60, 97, 102, 96, 91, 99, 88, 90, 92, 95, 91, 111, 91, 85, 28, 30, 12, -5],
  [28, 48, 116, 85, 107, 109, 103, 99, 105, 92, 94, 97, 102, 99, 130, 108, 100, 40, 42, 22, 5],
  [34, 65, 133, 96, 116, 117, 111, 108, 111, 97, 97, 102, 110, 108, 150, 128, 118, 55, 55, 32, 12],
  [42, 82, 150, 113, 126, 125, 119, 116, 116, 102, 102, 108, 116, 119, 167, 145, 140, 70, 70, 42, 20],
  [51, 99, 164, 128, 140, 133, 128, 125, 123, 108, 107, 114, 123, 130, 184, 167, 165, 85, 85, 55, 26],
  [62, 119, 184, 150, 155, 145, 136, 133, 130, 113, 112, 120, 130, 142, 198, 187, 185, 108, 105, 65, 34],
  [73, 142, 204, 168, 172, 157, 143, 142, 138, 119, 117, 126, 138, 153, 215, 204, 205, 145, 128, 80, 46],
  [85, 162, 221, 190, 190, 172, 152, 150, 146, 126, 124, 133, 145, 164, 227, 221, 225, 173, 140, 100, 62],
  [99, 184, 243, 215, 205, 188, 162, 159, 155, 133, 131, 140, 153, 176, 241, 241, 243, 193, 162, 122, 85],
  [116, 210, 269, 245, 226, 205, 173, 170, 163, 142, 138, 147, 162, 190, 258, 258, 262, 230, 201, 156, 119],
  [150, 235, 297, 277, 247, 219, 187, 185, 175, 150, 144, 156, 170, 204, 280, 278, 282, 275, 250, 204, 194],
  [216, 275, 323, 303, 262, 238, 198, 198, 187, 162, 153, 164, 181, 221, 298, 292, 300, 310, 300, 285, 298],
  [280, 315, 352, 335, 297, 255, 204, 221, 204, 173, 164, 179, 199, 241, 325, 323, 335, 345, 343, 340, 366],
  [343, 369, 383, 369, 328, 277, 227, 255, 224, 204, 190, 196, 222, 275, 355, 360, 374, 391, 395, 403, 434],
  [411, 429, 427, 413, 374, 320, 315, 312, 289, 250, 240, 243, 272, 328, 383, 408, 425, 447, 459, 490, 515],
  [522, 519, 485, 459, 413, 388, 405, 386, 403, 354, 365, 379, 369, 403, 450, 473, 482, 527, 548, 585, 700],
  [800, 700, 610, 553, 515, 530, 527, 532, 534, 539, 544, 549, 532, 517, 561, 578, 590, 640, 680, 720, 760],
];
const ctlExtra: [number[], number[]][] = [
  [[-11.5, -11, -9, -8.2, -7.7], [-5, 25, 46, 45, -5]],
  [[-7.3, -7.2, -6, -4.5, -4, -3.4], [-5, 40, 62, 55, 35, -5]],
  [[3.7, 3.95, 4.9, 7.1, 8.7, 9.6, 10.5], [-5, 45, 65, 68, 54, 31, -5]],
  [[6.7, 6.75, 8, 9.4, 9.6], [-5, 34, 40, 17, -5]],
  [[3.6, 4, 5, 6, 8, 10, 12, 15, 18, 20, 21.5], [-5, 35, 60, 65, 68, 68, 60, 40, 11, 9, 5]],
  [[4.8, 5.2, 6, 8, 10, 12, 15, 16.8], [-5, 30, 52, 62, 62, 48, 26, -5]],
  [[6, 6.3, 7, 8, 10, 12, 14, 15.4], [-5, 25, 45, 54, 54, 40, 22, -5]],
  [[7, 7.2, 8, 10, 12, 13.4], [-5, 25, 45, 43, 28, -5]],
  [[8, 8.3, 9, 10, 12, 12.5], [-5, 15, 33, 28, 14, -5]],
  [[18.7, 19, 20.1, 20.6], [-5, 31, 25, -5]],
  [[24.9, 25.1, 26.5, 27.2, 27.25], [-5, 48, 60, 25, -5]],
];

const obsTopLabels: Label[] = [["26.6", -1.1, 308, 60], ["26.8", 3.1, 397, -85]];
const obsLabels: Label[] = [
  ["22.8", -10.1, 78, 30], ["22.8", 1.8, 63, -80], ["22.6", 3.6, 63, -80], ["23.0", -1.5, 70, -35], ["23.2", -1, 95, -35],
  ["23.4", -14.2, 88, 0], ["23.6", -14.3, 102, 0], ["23.8", -14.2, 116, 0], ["24.0", -13.1, 129, 0], ["24.2", -13.1, 141, 0],
  ["24.4", -9.2, 158, 0], ["24.6", -9.3, 170, 0], ["24.8", -9.2, 182, 0], ["25.0", -9.2, 194, 0], ["25.2", -9.2, 206, 0],
  ["25.4", -10.1, 228, -45], ["25.6", -10.8, 253, -35], ["25.8", -1, 173, 0], ["26.0", -11, 291, -25], ["26.2", 1.1, 197, -10],
  ["26.4", -3.7, 231, -45], ["26.6", 2.2, 279, -80], ["26.8", -3.3, 403, 70], ["27.0", 6.7, 535, 0],
];
const ctlLabels: Label[] = [
  ["23.0", -0.8, 56, -70], ["23.2", -0.5, 75, -65], ["23.4", -1.2, 90, -60], ["23.6", -19.3, 39, 10], ["23.8", -19.5, 63, 20],
  ["24.0", -15.2, 94, -15], ["24.2", -13.3, 99, -15], ["24.4", -12.8, 112, -15], ["24.6", -12.7, 128, -10], ["24.8", -7.9, 146, 0],
  ["25.0", -7.9, 162, -5], ["25.2", -7.9, 179, -5], ["25.4", -7.9, 196, -20], ["25.6", -8.3, 214, -25], ["25.8", -7.9, 233, -25],
  ["26.0", 1.5, 190, -45], ["26.2", -1.2, 209, 35], ["26.4", 1, 241, -60], ["26.6", -5.9, 328, -35], ["26.8", -1.1, 417, -10], ["27.0", -5.6, 527, 10],
];

const FONT = "'Liberation Sans', Arial, sans-serif";

const toPts = (a: number[]) => { const o = []; for (let i = 0; i < a.length; i += 2) o.push({ x: a[i], y: a[i + 1] }); return o; };

const polyDataset = (arr: number[], color: string, mode: string, outline = false) => ({
  type: "scatter", data: toPts(arr), poly: mode, outline, backgroundColor: color, borderColor: color, showLine: false, pointRadius: 0, pointHoverRadius: 0,
});
const lineDataset = (xs: number[], ys: number[]) => ({
  type: "scatter", data: xs.map((x, i) => ({ x, y: ys[i] })), showLine: true, borderColor: "#000", borderWidth: 1, pointRadius: 0, pointHoverRadius: 0, backgroundColor: "#000", fill: false, cubicInterpolationMode: "monotone",
});

const polyPlugin = {
  id: "polyFill",
  beforeDatasetDraw(chart: any, args: any) {
    const ds = chart.data.datasets[args.index];
    if (!ds.poly) return;
    const pts = args.meta.data;
    const ctx = chart.ctx, a = chart.chartArea;
    ctx.save();
    if (ds.poly !== "free") { ctx.beginPath(); ctx.rect(a.left, a.top, a.right - a.left, a.bottom - a.top); ctx.clip(); }
    ctx.beginPath();
    const n = pts.length;
    if (ds.poly === "smooth") {
      const mx = (p: any, q: any) => (p.x + q.x) / 2, my = (p: any, q: any) => (p.y + q.y) / 2;
      ctx.moveTo(mx(pts[n - 1], pts[0]), my(pts[n - 1], pts[0]));
      for (let i = 0; i < n; i++) { const q = pts[(i + 1) % n]; ctx.quadraticCurveTo(pts[i].x, pts[i].y, mx(pts[i], q), my(pts[i], q)); }
    } else {
      pts.forEach((p: any, i: number) => (i ? ctx.lineTo(p.x, p.y) : ctx.moveTo(p.x, p.y)));
    }
    ctx.closePath();
    ctx.fillStyle = ds.backgroundColor;
    ctx.fill();
    if (ds.outline) { ctx.strokeStyle = "#000"; ctx.lineWidth = 1; ctx.stroke(); }
    ctx.restore();
  },
};

const framePlugin = {
  id: "frameTicks",
  afterDraw(chart: any) {
    const { ctx, chartArea: a, scales } = chart;
    ctx.save();
    ctx.strokeStyle = "#000";
    ctx.lineWidth = 1.5;
    scales.x.ticks.forEach((t: any) => {
      const px = scales.x.getPixelForValue(t.value), len = t.value % 10 === 0 ? 7 : 4;
      ctx.beginPath(); ctx.moveTo(px, a.top); ctx.lineTo(px, a.top - len); ctx.moveTo(px, a.bottom); ctx.lineTo(px, a.bottom + len); ctx.stroke();
    });
    scales.y.ticks.forEach((t: any) => {
      const py = scales.y.getPixelForValue(t.value), len = t.value % 100 === 0 ? 7 : 4;
      ctx.beginPath(); ctx.moveTo(a.left, py); ctx.lineTo(a.left - len, py); ctx.moveTo(a.right, py); ctx.lineTo(a.right + len, py); ctx.stroke();
    });
    ctx.lineWidth = 2;
    ctx.strokeRect(a.left, a.top, a.right - a.left, a.bottom - a.top);
    ctx.restore();
  },
};

const isoLabelPlugin = {
  id: "isoLabels",
  afterDatasetsDraw(chart: any) {
    const rows: Label[] = chart.config.options.isoRows || [];
    const { ctx, scales } = chart;
    ctx.save();
    ctx.font = "11.5px " + FONT;
    ctx.fillStyle = "#000";
    ctx.textAlign = "center";
    ctx.textBaseline = "middle";
    rows.forEach(([t, lon, d, ang]) => {
      ctx.save();
      ctx.translate(scales.x.getPixelForValue(lon), scales.y.getPixelForValue(d));
      ctx.rotate((ang * Math.PI) / 180);
      ctx.fillText(t, 0, 0);
      ctx.restore();
    });
    ctx.restore();
  },
};

function panelConfig(p: any) {
  const polys = p.fill.map(([band, arr]: Poly) => polyDataset(arr, p.palette[band], "smooth"));
  const lines = p.rows.map((ys: number[]) => lineDataset(p.lon, ys));
  const extras = p.extra.map(([xs, ys]: [number[], number[]]) => lineDataset(xs, ys));
  const over = p.over.map((arr: number[]) => polyDataset(arr, GRAY, "sharp"));
  const datasets = [...polys, ...lines, ...extras, ...over];
  const total = datasets.length;
  datasets.forEach((d: any, i: number) => (d.order = total - i));
  return {
    type: "scatter",
    data: { datasets },
    plugins: [polyPlugin, framePlugin, isoLabelPlugin],
    options: {
      animation: false, responsive: false, isoRows: p.labels,
      layout: { autoPadding: false, padding: { top: p.padTop, right: 0, left: 0, bottom: 0 } },
      plugins: {
        legend: { display: false }, tooltip: { enabled: false },
        title: p.title ? { display: true, text: p.title, fullSize: true, color: "#000", font: { family: "'Liberation Serif', serif", size: 32, weight: "normal", lineHeight: 1 }, padding: { top: 10, bottom: 23 } } : { display: false },
      },
      scales: {
        x: {
          type: "linear", min: -26, max: 30, border: { display: false }, grid: { display: false, tickLength: 7 },
          afterBuildTicks: (s: any) => { s.ticks = lonTicks.map((value) => ({ value })); },
          afterFit: (s: any) => { s.height = p.xHeight; },
          ticks: { autoSkip: false, maxRotation: 0, padding: p.xPad, color: "#000", font: { family: FONT, size: 13 }, callback: (v: number) => lonNames[v] ?? "" },
        },
        y: {
          type: "linear", reverse: true, min: 0, max: 600, border: { display: false }, grid: { display: false, tickLength: 7 },
          afterBuildTicks: (s: any) => { s.ticks = depthTicks.map((value) => ({ value })); },
          afterFit: (s: any) => { s.width = p.yWidth; },
          ticks: { autoSkip: false, padding: 5, color: "#000", font: { family: FONT, size: 13 }, callback: (v: number) => (v % 100 === 0 ? String(v) : "") },
        },
        yR: {
          type: "linear", position: "right", border: { display: false }, grid: { display: false }, ticks: { display: false },
          afterFit: (s: any) => { s.width = p.rightGap; },
        },
      },
    },
  };
}

function barConfig(palette: string[], tickAt: number[], tickText: string[], tip: number, align: string, pad: number, padBottom: number, axisWidth: number) {
  const n = palette.length - 2;
  const datasets: any[] = [];
  datasets.push(polyDataset([0.5, n + tip, 1, n, 0, n], palette[n + 1], "free", true));
  for (let i = 0; i < n; i++) datasets.push(polyDataset([0, i, 1, i, 1, i + 1, 0, i + 1], palette[i + 1], "free", true));
  datasets.push(polyDataset([0.5, -tip, 1, 0, 0, 0], palette[0], "free", true));
  return {
    type: "scatter",
    data: { datasets },
    plugins: [polyPlugin],
    options: {
      animation: false, responsive: false,
      layout: { autoPadding: false, padding: { left: 5, top: 5, bottom: padBottom, right: 0 } },
      plugins: { legend: { display: false }, tooltip: { enabled: false }, title: { display: false } },
      scales: {
        x: { type: "linear", display: false, min: 0, max: 1 },
        y: {
          type: "linear", position: "right", min: -tip, max: n + tip, border: { display: false }, grid: { display: false, drawTicks: false },
          afterBuildTicks: (s: any) => { s.ticks = tickAt.map((value) => ({ value })); },
          afterFit: (s: any) => { s.width = axisWidth; s.paddingTop = 0; s.paddingBottom = 0; },
          ticks: { autoSkip: false, crossAlign: align, padding: pad, color: "#000", font: { family: FONT, size: 12 }, callback: (v: number) => tickText[tickAt.indexOf(v)] ?? "" },
        },
      },
    },
  };
}

function Cv({ left, top, width, height, make }: any) {
  const ref = useRef<HTMLCanvasElement>(null);
  useEffect(() => {
    const chart = new Chart(ref.current as any, make());
    return () => chart.destroy();
  }, []);
  return <canvas ref={ref} width={width} height={height} style={{ position: "absolute", left, top, width, height, display: "block" }} />;
}

export default function App() {
  const A = { title: titles[0], fill: velObsFill, palette: velPalette, lon: obsLon, rows: obsDepth, extra: obsExtra, over: [obsVelMask], labels: obsTopLabels, padTop: 0, rightGap: 59, xHeight: 30, yWidth: 49, xPad: 6 };
  const B = { title: titles[1], fill: velCtlFill, palette: velPalette, lon: ctlLon, rows: ctlDepth, extra: ctlExtra, over: [ctlVelBar], labels: ctlLabels, padTop: 0, rightGap: 54, xHeight: 30, yWidth: 51, xPad: 6 };
  const C = { title: "", fill: salObsFill, palette: salPalette, lon: obsLon, rows: obsDepth, extra: obsExtra.slice(0, 6), over: [obsSalCornerW, obsSalCornerE], labels: obsLabels, padTop: 20, rightGap: 59, xHeight: 28, yWidth: 49, xPad: 5 };
  const D = { title: "", fill: salCtlFill, palette: salPalette, lon: ctlLon, rows: ctlDepth, extra: ctlExtra, over: [ctlSalBar], labels: ctlLabels, padTop: 20, rightGap: 54, xHeight: 28, yWidth: 51, xPad: 5 };
  return (
    <div style={{ position: "fixed", left: 0, top: 0, width: 1015, height: 848, overflow: "hidden", background: "#fff" }}>
      <Cv left={0} top={0} width={518} height={448} make={() => panelConfig(A)} />
      <Cv left={505} top={0} width={516} height={448} make={() => panelConfig(B)} />
      <Cv left={0} top={448} width={518} height={400} make={() => panelConfig(C)} />
      <Cv left={505} top={448} width={516} height={400} make={() => panelConfig(D)} />
      <Cv left={462} top={60} width={60} height={365} make={() => barConfig(velPalette, velTickAt, velTickText, 0.96, "center", 4, 7, 40)} />
      <Cv left={969} top={60} width={60} height={365} make={() => barConfig(velPalette, velTickAt, velTickText, 0.96, "center", 4, 7, 40)} />
      <Cv left={460} top={463} width={60} height={365} make={() => barConfig(salPalette, salTickAt, salTickText, 1.37, "near", 3, 8, 39)} />
      <Cv left={967} top={463} width={60} height={365} make={() => barConfig(salPalette, salTickAt, salTickText, 1.37, "near", 3, 8, 39)} />
    </div>
  );
}
